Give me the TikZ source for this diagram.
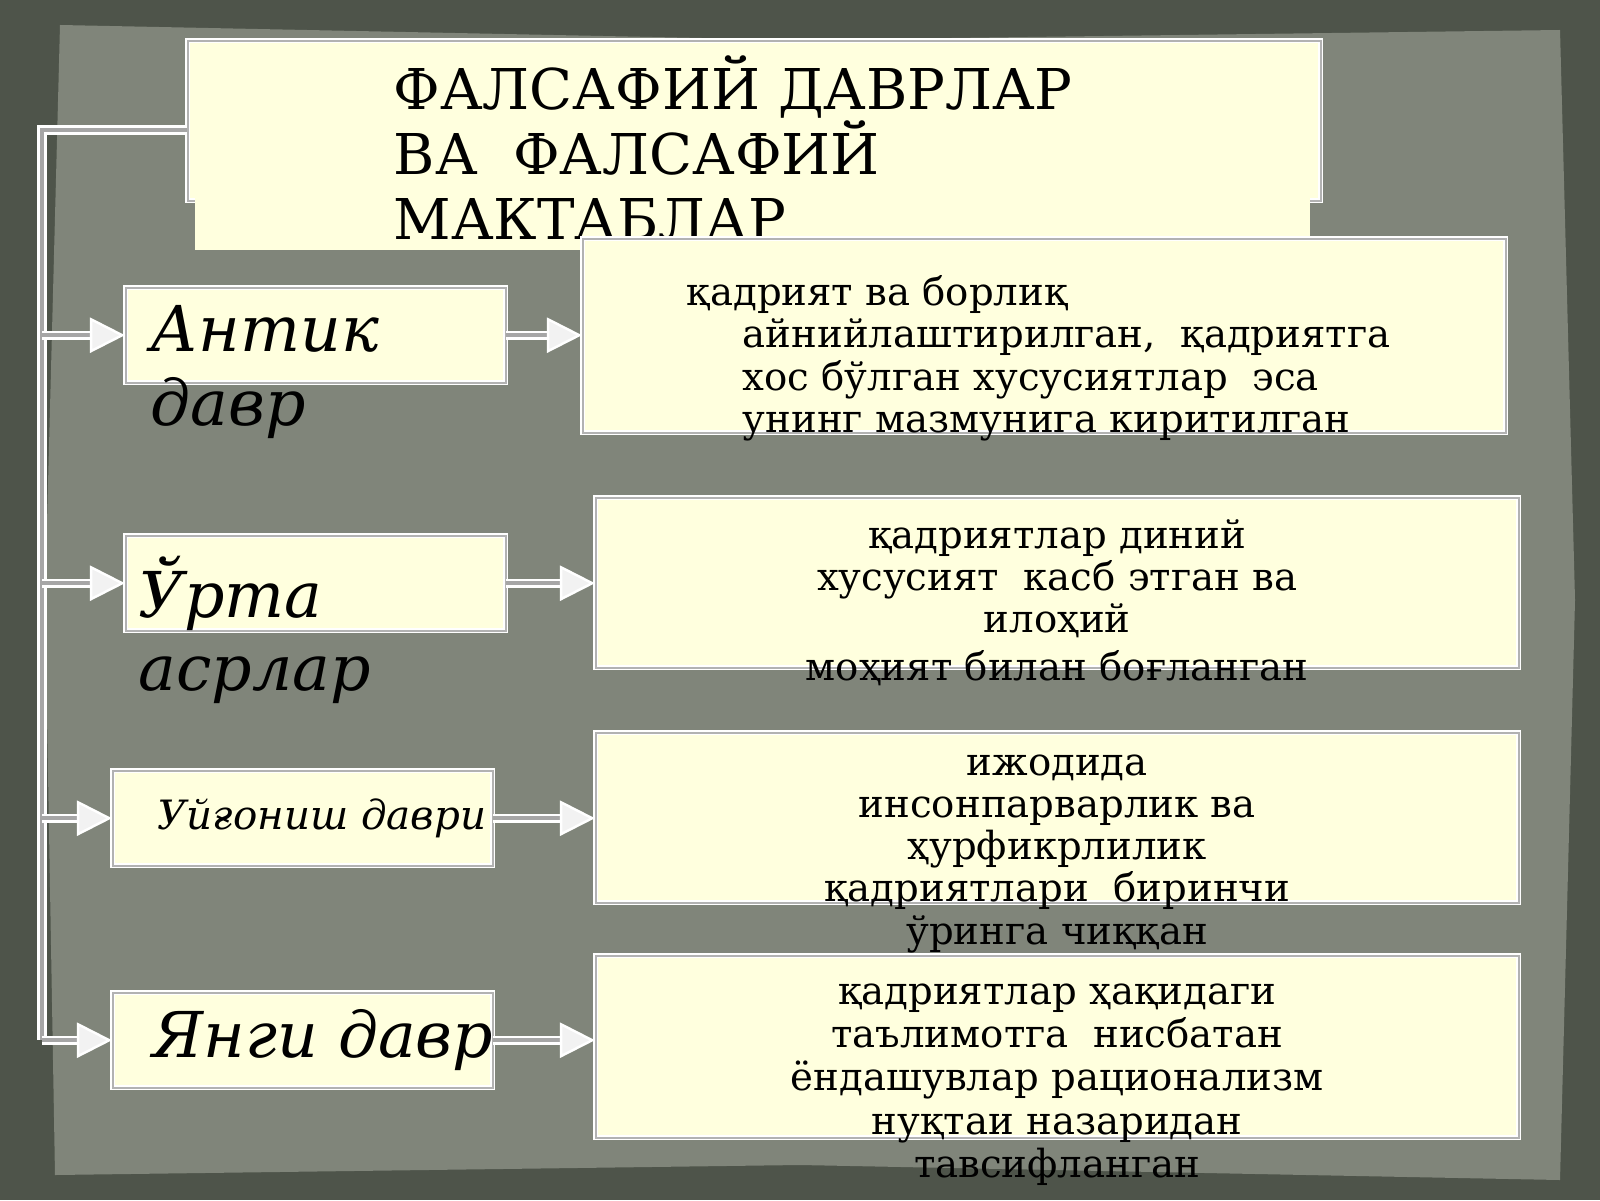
\documentclass[tikz,border=0pt]{standalone}
\usepackage{fontspec}
\setmainfont{DejaVu Serif}
\usetikzlibrary{positioning,arrows.meta}
\definecolor{bgdark}{RGB}{78,84,74}
\definecolor{bgmid}{RGB}{128,133,122}
\definecolor{boxfill}{RGB}{255,255,222}
\tikzset{
  box/.style={draw=white, double=gray!60, double distance=0.6pt, fill=boxfill, inner sep=0pt},
  period/.style={box, minimum width=3.8cm, minimum height=0.95cm},
  note/.style={box, minimum width=9.23cm},
  link/.style={draw=white, double=gray!70, double distance=1.2pt, line width=0.7pt},
  arr/.style={link, -{Triangle[width=10pt,length=10pt,fill=white!90!gray]}},
  ptext/.style={font=\fontsize{18}{21}\selectfont\itshape, align=left, anchor=north west, inner sep=0pt},
  ntext/.style={font=\fontsize{11}{12}\selectfont, align=center, anchor=north, inner sep=0pt},
}
\begin{document}
\begin{tikzpicture}
\useasboundingbox (0,0) rectangle (16,12);
\fill[bgdark] (0,0) rectangle (16,12);
\fill[bgmid] (0.55,0.25) -- (8,0.35) -- (15.6,0.2) -- (15.75,6) -- (15.6,11.7) -- (8,11.6) -- (0.6,11.75) -- (0.45,6) -- cycle;

% title
\node[box, minimum width=11.33cm, minimum height=1.6cm, anchor=north west] (title) at (1.87,11.6) {};
\fill[boxfill] (1.95,9.5) rectangle (13.1,10.05);
\node[font=\fontsize{16}{18.5}\selectfont, align=left, anchor=north west, inner sep=0pt] at (3.93,11.45)
  {ФАЛСАФИЙ ДАВРЛАР\\ ВА\ \ ФАЛСАФИЙ\\ МАКТАБЛАР};

% periods
\node[period, anchor=north west] (antik) at (1.25,9.13) {};
\node[period, anchor=north west] (urta) at (1.25,6.65) {};
\node[period, anchor=north west] (uygon) at (1.12,4.3) {};
\node[period, anchor=north west] (yangi) at (1.12,2.08) {};
\node[ptext] at (1.5,8.95) {Антик\\давр};
\node[ptext] at (1.38,6.45) {Ўрта\\асрлар};
\node[font=\fontsize{11.5}{13}\selectfont\itshape] at (uygon) {\ \ \ Уйғониш даври};
\node[font=\fontsize{18}{21}\selectfont\itshape] at (yangi) {\ \ Янги давр};

% notes
\node[note, minimum height=1.94cm, anchor=north west] (n1) at (5.82,9.62) {};
\node[note, minimum height=1.7cm, anchor=north west] (n2) at (5.95,7.03) {};
\node[note, minimum height=1.7cm, anchor=north west] (n3) at (5.95,4.68) {};
\node[note, minimum height=1.82cm, anchor=north west] (n4) at (5.95,2.45) {};
\node[font=\fontsize{11}{12}\selectfont, align=left, anchor=north west, inner sep=0pt] at (6.86,9.25)
  {қадрият ва борлиқ\\\hspace{0.56cm}айнийлаштирилган,\ \ қадриятга\\\hspace{0.56cm}хос бўлган хусусиятлар\ \ эса\\\hspace{0.56cm}унинг мазмунига киритилган};
\node[ntext] at (n2.north) [yshift=-0.22cm] {қадриятлар диний\\хусусият\ \ касб этган ва\\илоҳий\\[1.5pt]моҳият билан боғланган};
\node[ntext] at (n3.north) [yshift=-0.22cm] {ижодида\\инсонпарварлик ва\\ҳурфикрлилик\\қадриятлари\ \ биринчи\\ўринга чиққан};
\node[ntext, font=\fontsize{11}{12.3}\selectfont] at (n4.north) [yshift=-0.28cm] {қадриятлар ҳақидаги\\таълимотга\ \ нисбатан\\ёндашувлар рационализм\\нуқтаи назаридан\\тавсифланган};

% connectors
\coordinate (top) at (0.42,10.7);
\draw[link] (title.west |- top) -- (top) -- (top |- yangi.west);
\foreach \b in {antik,urta,uygon,yangi}
  \draw[arr] (top |- \b.west) -- (\b.west);
\draw[arr] (antik.east) -- (n1.west |- antik.east);
\draw[arr] (urta.east) -- (n2.west |- urta.east);
\draw[arr] (uygon.east) -- (n3.west |- uygon.east);
\draw[arr] (yangi.east) -- (n4.west |- yangi.east);
\end{tikzpicture}
\end{document}
